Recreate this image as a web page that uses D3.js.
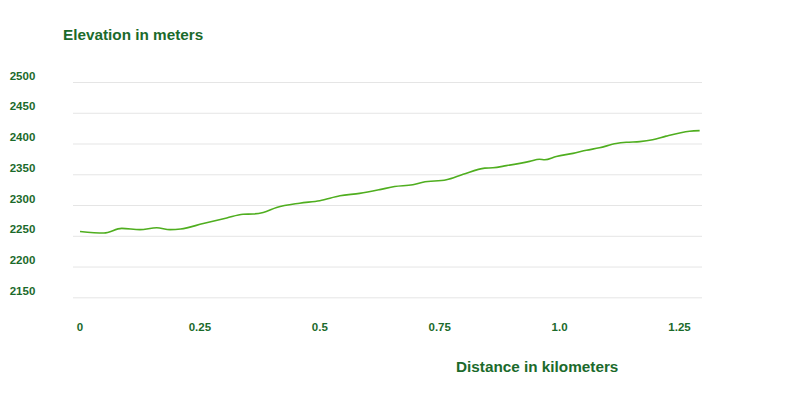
<!DOCTYPE html>
<html>
<head>
<meta charset="utf-8">
<script src="https://cdn.jsdelivr.net/npm/d3@7"></script>
<style>
  html, body { margin: 0; padding: 0; background: #fff; }
  svg { display: block; font-family: "Liberation Sans", Arial, sans-serif; }
  .title { font-weight: bold; font-size: 15.3px; fill: #1b6a2b; }
  .tick-label { font-weight: bold; font-size: 11.5px; fill: #1b6a2b; }
  .grid line { stroke: #e5e5e5; stroke-width: 1; }
  .grid path { display: none; }
</style>
</head>
<body>
<svg id="chart" width="800" height="399"></svg>
<script>
(function () {
  "use strict";

  // distance (km) and elevation (m)
  const distanceKm = [0, 0.05, 0.087, 0.125, 0.16, 0.1875, 0.21, 0.257, 0.306, 0.34,
    0.361, 0.382, 0.41, 0.458, 0.5, 0.542, 0.583, 0.625, 0.656, 0.694,
    0.715, 0.764, 0.799, 0.844, 0.861, 0.889, 0.9375, 0.958, 0.969, 0.993,
    1.028, 1.056, 1.083, 1.118, 1.139, 1.167, 1.194, 1.222, 1.271, 1.292];
  const elevationM = [2257, 2254.5, 2262, 2260, 2263, 2260, 2261, 2270, 2279, 2285,
    2285.5, 2288, 2296, 2303, 2307, 2315, 2319, 2325, 2330, 2333,
    2337, 2341, 2350, 2360, 2360.5, 2364, 2371, 2374.5, 2373.5, 2379,
    2384, 2389, 2393, 2400, 2402, 2403, 2406, 2412, 2420, 2421];

  const yTicks = [2150, 2200, 2250, 2300, 2350, 2400, 2450, 2500];
  const xTicks = [0, 0.25, 0.5, 0.75, 1.0, 1.25];
  const xTickLabels = ["0", "0.25", "0.5", "0.75", "1.0", "1.25"];

  const data = distanceKm.map((d, i) => ({ km: d, elev: elevationM[i] }));

  const svg = d3.select("#chart");

  const x = d3.scaleLinear().domain([0, 1.25]).range([80, 679.5]);
  const y = d3.scaleLinear().domain([2150, 2500]).range([297.3, 82]);

  // horizontal grid lines
  svg.append("g").attr("class", "grid")
    .attr("transform", "translate(73,0)")
    .call(d3.axisLeft(y).tickValues(yTicks).tickSize(-629).tickFormat(""));

  // y labels sit a little above their grid line
  svg.append("g").selectAll("text")
    .data(yTicks)
    .join("text")
    .attr("class", "tick-label")
    .attr("x", 22.5)
    .attr("y", d => y(d) - 2.5)
    .attr("text-anchor", "middle")
    .text(d => d);

  // x labels
  svg.append("g").selectAll("text")
    .data(xTicks)
    .join("text")
    .attr("class", "tick-label")
    .attr("x", d => x(d))
    .attr("y", 331)
    .attr("text-anchor", "middle")
    .text((d, i) => xTickLabels[i]);

  const line = d3.line()
    .x(d => x(d.km))
    .y(d => y(d.elev))
    .curve(d3.curveMonotoneX);

  svg.append("path")
    .datum(data)
    .attr("fill", "none")
    .attr("stroke", "#4fae1f")
    .attr("stroke-width", 1.6)
    .attr("d", line);

  svg.append("text").attr("class", "title")
    .attr("x", 63).attr("y", 40)
    .text("Elevation in meters");

  svg.append("text").attr("class", "title")
    .attr("x", 456).attr("y", 371.5)
    .text("Distance in kilometers");
})();
</script>
</body>
</html>
